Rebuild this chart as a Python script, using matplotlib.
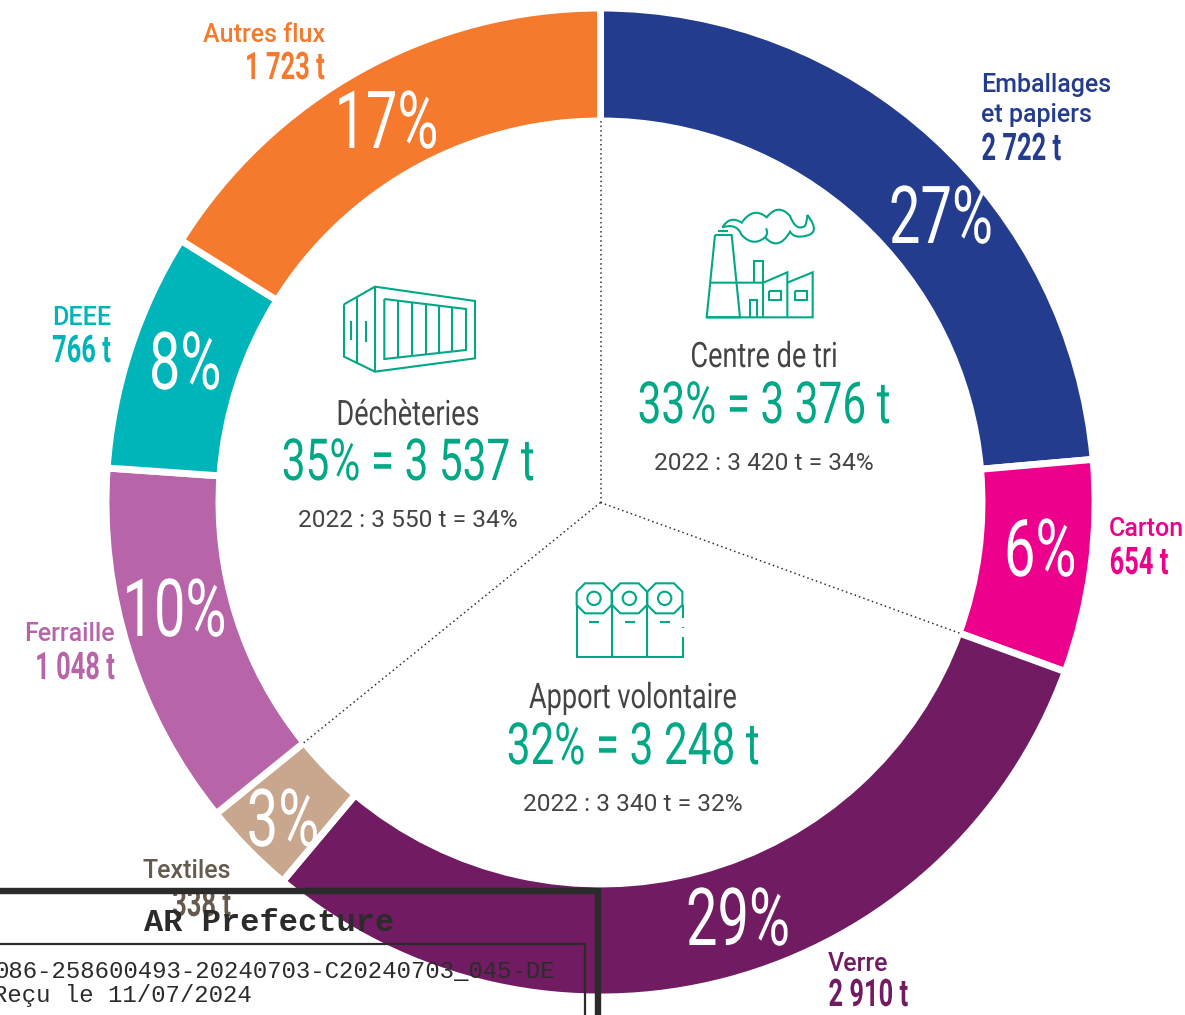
import matplotlib
matplotlib.use('Agg')
import matplotlib.pyplot as plt
import matplotlib.patheffects as pe
from matplotlib.path import Path
from matplotlib.patches import PathPatch, Circle
from matplotlib.transforms import Affine2D, Bbox
import numpy as np

# flux, clockwise from the top
flux_names = [['Emballages', 'et papiers'], ['Carton'], ['Verre'], ['Textiles'],
              ['Ferraille'], ['DEEE'], ['Autres flux']]
flux_tons = ['2 722 t', '654 t', '2 910 t', '338 t', '1 048 t', '766 t', '1 723 t']
flux_pct = ['27%', '6%', '29%', '3%', '10%', '8%', '17%']
# arc length of each slice in degrees, as drawn (not proportional to the printed %)
arc_degrees = [85, 25, 110, 11, 43, 28, 58]
flux_colors = ['#243c8e', '#ec008c', '#711b62', '#c9a78f', '#b765a8', '#00b5b9', '#f57a2e']
label_colors = ['#243c8e', '#ec008c', '#711b62', '#665a4c', '#b765a8', '#00b5b9', '#f57a2e']

# collection channels
channels = ['Centre de tri', 'Déchèteries', 'Apport volontaire']
channel_now = ['33% = 3 376 t', '35% = 3 537 t', '32% = 3 248 t']
channel_2022 = ['2022 : 3 420 t = 34%', '2022 : 3 550 t = 34%', '2022 : 3 340 t = 32%']

WIDTH, HEIGHT = 1185, 1015
CX, CY = 600.5, 502.5
GREEN = '#00a886'
GREY = '#444444'


class Squeeze(pe.AbstractPathEffect):
    # condensed look, no condensed DIN is installed
    def __init__(self, sx, ha):
        super().__init__()
        self.sx = sx
        self.ha = ha

    def draw_path(self, renderer, gc, tpath, affine, rgbFace=None):
        ext = tpath.get_extents(affine)
        x0 = {'left': ext.x0, 'center': (ext.x0 + ext.x1) / 2, 'right': ext.x1}[self.ha]
        squeezed = affine + Affine2D().translate(-x0, 0).scale(self.sx, 1).translate(x0, 0)
        renderer.draw_path(gc, tpath, squeezed, rgbFace)


def label(x, y, s, px, color, sx=1.0, ha='center', weight='normal', family='Roboto', zorder=6):
    t = ax.text(x, y, s, fontsize=px * 0.72, color=color, ha=ha, va='baseline',
                fontweight=weight, family=family, zorder=zorder)
    if sx != 1.0:
        t.set_path_effects([Squeeze(sx, ha)])
        full_extent = t.get_window_extent

        # report the box of the squeezed glyphs, not of the plain ones
        def narrow_extent(renderer=None, dpi=None):
            b = full_extent(renderer, dpi)
            x0 = {'left': b.x0, 'center': (b.x0 + b.x1) / 2, 'right': b.x1}[ha]
            return Bbox([[x0 + (b.x0 - x0) * sx, b.y0], [x0 + (b.x1 - x0) * sx, b.y1]])

        t.get_window_extent = narrow_extent
    return t


fig = plt.figure(figsize=(WIDTH / 100, HEIGHT / 100), dpi=100)
ax = fig.add_axes([0, 0, 1, 1])

# y axis points down, so counterclock=True runs clockwise on screen
ax.pie(arc_degrees, colors=flux_colors, center=(CX, CY), radius=494.5, startangle=-90,
       counterclock=True, wedgeprops=dict(width=113, edgecolor='white', linewidth=5))
ax.set_xlim(0, WIDTH)
ax.set_ylim(HEIGHT, 0)
ax.set_aspect('equal')
ax.axis('off')

# dotted separators between the three channels
edges = np.cumsum([0] + arc_degrees)
for deg in [edges[0], edges[2], edges[4]]:
    a = np.radians(deg)
    ax.plot([CX, CX + 385 * np.sin(a)], [CY, CY - 385 * np.cos(a)], color='#333333', lw=1.1,
            linestyle=(0, (1, 2)), zorder=3)

# percentages on the ring
pct_xy = [(941, 243), (1040, 576), (738, 945), (283, 846), (174, 636), (185, 389), (386, 148)]
for (x, y), p in zip(pct_xy, flux_pct):
    label(x, y, p, 80, 'white', sx=0.7)

# outer labels: name lines then tonnage
name_pos = [(981, [92, 122], 160, 'left'), (1109, [536], 574, 'left'), (828, [971], 1006, 'left'),
            (231, [878], 916, 'right'), (115, [641], 679, 'right'), (111, [325], 362, 'right'),
            (325, [42], 79, 'right')]
for (x, ys, yt, ha), names, tons, col in zip(name_pos, flux_names, flux_tons, label_colors):
    for y, n in zip(ys, names):
        label(x, y, n, 25, col, ha=ha, weight='medium')
    label(x, yt, tons, 38, col, ha=ha, sx=0.67, weight='bold')

# channel blocks
block_xy = [(764, 367, 423, 470), (408, 425, 480, 527), (633, 708, 764, 811)]
for (x, y1, y2, y3), c, n, o in zip(block_xy, channels, channel_now, channel_2022):
    label(x, y1, c, 35, GREY, sx=0.775)
    label(x, y2, n, 58, GREEN, sx=0.73)
    label(x, y3, o, 24.5, GREY)


# icons, traced in pixel coordinates
def poly(pts, closed=False, lw=1.5):
    xs, ys = zip(*(list(pts) + [pts[0]] if closed else pts))
    ax.plot(xs, ys, color=GREEN, lw=lw, solid_joinstyle='miter', solid_capstyle='butt', zorder=4)


# factory
def fz(x, y):
    return (690 + x / 3, 200 + y / 3)


poly([fz(*p) for p in [(75, 105), (125, 105), (150, 352), (50, 352)]], closed=True)
poly([fz(85, 92), fz(115, 92)])
poly([fz(62, 248), fz(220, 248), fz(292, 217), fz(292, 352)])
poly([fz(292, 248), fz(368, 217), fz(368, 352), fz(50, 352)])
poly([fz(192, 248), fz(192, 183), fz(218, 183), fz(218, 352)])
poly([fz(180, 352), fz(180, 300), fz(200, 300), fz(200, 352)])
poly([fz(*p) for p in [(238, 273), (274, 273), (274, 300), (238, 300)]], closed=True)
poly([fz(*p) for p in [(314, 273), (350, 273), (350, 300), (314, 300)]], closed=True)
smoke = [(97, 82), (120, 45), (155, 68), (190, 18), (230, 52), (265, 8), (300, 48), (318, 95),
         (345, 78), (352, 62), (352, 45), (395, 100), (345, 108), (312, 116), (300, 95), (265, 156),
         (225, 112), (190, 142), (155, 105), (140, 68), (97, 82)]
codes = [Path.MOVETO] + [Path.CURVE3] * (len(smoke) - 1)
ax.add_patch(PathPatch(Path([fz(*p) for p in smoke], codes), fill=False, edgecolor=GREEN, lw=1.5, zorder=4))
ax.add_patch(PathPatch(Path([fz(225, 112), fz(236, 100), fz(228, 85)],
                            [Path.MOVETO, Path.CURVE3, Path.CURVE3]),
                       fill=False, edgecolor=GREEN, lw=1.5, zorder=4))


# container
def cz(x, y):
    return (330 + x / 3.0, 275 + y / 3.0)


poly([cz(*p) for p in [(42, 88), (135, 35), (435, 78), (435, 250), (135, 290), (42, 245)]], closed=True)
poly([cz(135, 35), cz(135, 290)])
poly([cz(82, 68), cz(82, 268)])
poly([cz(*p) for p in [(163, 72), (408, 102), (408, 225), (163, 252)]], closed=True)
for bx in [205, 247, 288, 327, 367]:
    poly([cz(bx, 72 + (bx - 163) * 30 / 245), cz(bx, 252 - (bx - 163) * 27 / 245)])
poly([cz(62, 138), cz(62, 195)])
poly([cz(109, 138), cz(109, 202)])


# bins
def bz(x, y):
    return (560 + x / 3, 570 + y / 3)


for i in range(3):
    dx = i * 106
    poly([bz(*p) for p in [(50 + dx, 65), (75 + dx, 40), (130 + dx, 40), (155 + dx, 65),
                           (155 + dx, 105), (130 + dx, 130), (75 + dx, 130), (50 + dx, 105)]], closed=True)
    cx, cy = bz(102 + dx, 85)
    ax.add_patch(Circle((cx, cy), 20 / 3, fill=False, edgecolor=GREEN, lw=1.5, zorder=4))
    poly([bz(88 + dx, 156), bz(118 + dx, 156)])
poly([bz(50, 105), bz(50, 262), bz(368, 262), bz(368, 200)])
poly([bz(368, 145), bz(368, 105)])
poly([bz(368, 170), bz(368, 175)])
poly([bz(155, 105), bz(155, 262)])
poly([bz(262, 105), bz(262, 262)])

# stamp across the bottom left corner
STAMP = '#2b2b2b'
ax.plot([0, 598, 598], [891, 891, HEIGHT], color=STAMP, lw=4.6, solid_joinstyle='miter', zorder=7)
ax.plot([0, 585, 585], [944, 944, HEIGHT], color=STAMP, lw=1.6, solid_joinstyle='miter', zorder=7)
ax.text(269, 931, 'AR Prefecture', fontsize=23, family='Liberation Mono', fontweight='bold',
        color=STAMP, ha='center', va='baseline', zorder=8)
ax.text(555, 978, '086-258600493-20240703-C20240703_045-DE', fontsize=17.3, family='Liberation Mono',
        color=STAMP, ha='right', va='baseline', zorder=8)
ax.text(252, 1002, 'Reçu le 11/07/2024', fontsize=17.3, family='Liberation Mono',
        color=STAMP, ha='right', va='baseline', zorder=8)

fig.savefig('out.png', dpi=100)
